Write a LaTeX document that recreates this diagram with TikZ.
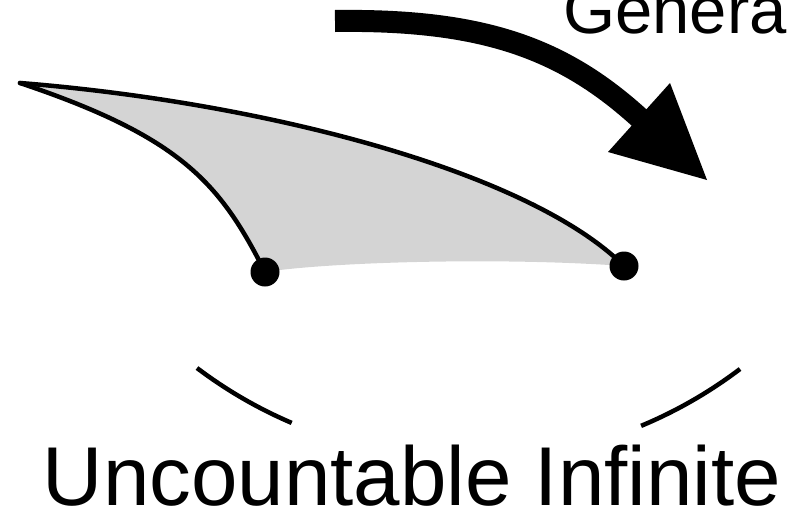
\documentclass[tikz,border=0pt]{standalone}
\usepackage{fontspec}
\setmainfont{Liberation Sans}
\begin{document}
\begin{tikzpicture}[x=1pt,y=-1pt,
  edge/.style={line width=4.5pt,line cap=round},
  dot/.style={circle,fill=black,inner sep=0pt,minimum size=29pt},
  sheet/.style={fill=black!17},
  bigarrow/.style={line width=22pt},
  label/.style={inner sep=0pt,font=\fontsize{83.5}{84}\selectfont}]
\useasboundingbox (0,0) rectangle (794,517);
\clip (0,0) rectangle (794,517);

% corners of the curved sheet
\coordinate (tip) at (20,83);
\coordinate (l) at (265,272);
\coordinate (r) at (624,266);

% shaded sheet
\fill[sheet] (tip) .. controls (270,103) and (531,173) .. (r)
  .. controls (500,257) and (330,262) .. (l)
  .. controls (220,183) and (181,137) .. (tip) -- cycle;

% outlined edges
\draw[edge] (tip) .. controls (270,103) and (531,173) .. (r);
\draw[edge] (tip) .. controls (181,137) and (220,183) .. (l);

\node[dot] (ldot) at (l) {};
\node[dot] (rdot) at (r) {};

% thick curved arrow
\coordinate (a0) at (335,21);
\coordinate (a1) at (645,123);
\draw[bigarrow] (a0) .. controls (485,19) and (566,49) .. (a1);
\fill (670,83) -- (707,180) -- (608,152) -- cycle;

\node[anchor=base west,inner sep=0pt,font=\fontsize{67}{67}\selectfont] (gen) at (563,33) {Genera};

% arcs of the enclosing circle
\draw[line width=4.5pt] (197,368) arc[start angle=127.1,end angle=113.1,radius=449];
\draw[line width=4.5pt] (740,369) arc[start angle=52.8,end angle=67.4,radius=449];

\node[label,anchor=base] (unc) at (412,505) {Uncountable Infinite};
\end{tikzpicture}
\end{document}
